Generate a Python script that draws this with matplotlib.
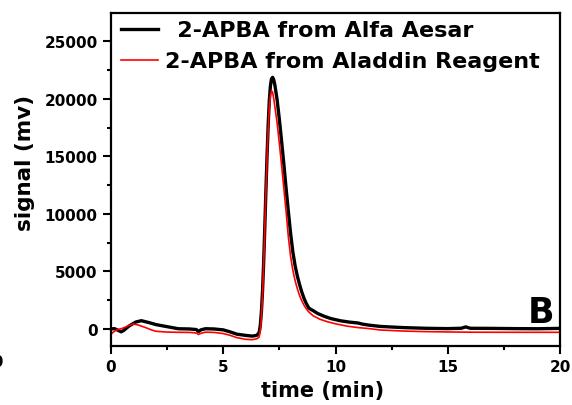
import matplotlib
matplotlib.use("Agg")
import matplotlib.pyplot as plt
from matplotlib.ticker import MultipleLocator

plt.rcParams['font.family'] = ['DejaVu Sans']
plt.rcParams['font.weight'] = 'bold'

# Alfa Aesar (black)
t_alfa = [0, 0.15, 0.3, 0.45, 0.55, 0.8, 1.1, 1.35, 1.7, 2.0, 2.5, 3.0, 3.5, 3.8, 3.9, 4.0,
          4.2, 4.6, 5.0, 5.3, 5.6, 6.0, 6.3, 6.5, 6.6, 6.65, 6.7, 6.75, 6.8, 6.85, 6.9, 6.95,
          7.0, 7.05, 7.1, 7.15, 7.2, 7.25, 7.3, 7.4, 7.5, 7.6, 7.7, 7.8, 7.9, 8.0,
          8.1, 8.2, 8.3, 8.4, 8.5, 8.6, 8.7, 8.8, 8.9, 9.0, 9.2, 9.5, 9.8, 10.2, 10.6, 11.0, 11.2, 11.5,
          12.0, 13.0, 14.0, 15.0, 15.6, 15.8, 16.0, 17.0, 18.0, 19.0, 20.0]
s_alfa = [0, 30, -100, -250, -150, 250, 600, 720, 550, 380, 200, 20, 0, -50, -220, -80,
          20, 0, -80, -250, -450, -560, -620, -550, -300, 300, 1500, 3300, 5800, 8800, 12000, 15000,
          17700, 19800, 21100, 21750, 21870, 21650, 21200, 19900, 18200, 16300, 14300, 12200, 10200, 8300,
          6700, 5500, 4600, 3850, 3200, 2650, 2200, 1850, 1700, 1600, 1350, 1100, 900, 720, 600, 520, 420, 330,
          220, 120, 60, 30, 60, 180, 60, 50, 30, 20, 50]

# Aladdin Reagent (red)
t_aladdin = [0, 0.15, 0.3, 0.5, 0.8, 1.0, 1.2, 1.5, 1.8, 2.0, 2.5, 3.0, 3.5, 3.8, 3.9, 4.0,
             4.2, 4.6, 5.0, 5.3, 5.6, 6.0, 6.3, 6.5, 6.6, 6.65, 6.7, 6.75, 6.8, 6.85, 6.9, 6.95,
             7.0, 7.05, 7.1, 7.15, 7.2, 7.25, 7.3, 7.4, 7.5, 7.6, 7.7, 7.8, 7.9, 8.0,
             8.1, 8.2, 8.3, 8.4, 8.5, 8.6, 8.7, 8.8, 9.0, 9.3, 9.6, 10.0, 10.5, 11.0,
             11.5, 12.0, 13.0, 14.0, 15.0, 16.0, 18.0, 20.0]
s_aladdin = [-450, -200, -50, 50, 300, 430, 350, 150, -80, -200, -270, -290, -300, -350, -480, -380,
             -280, -300, -400, -550, -750, -900, -930, -850, -700, -150, 1000, 3000, 5600, 8700, 11900, 14800,
             17300, 19200, 20300, 20700, 20550, 20000, 19300, 17900, 16100, 14200, 12200, 10200, 8000, 6300,
             5100, 4200, 3500, 2900, 2450, 2050, 1750, 1500, 1150, 850, 650, 450, 250, 120,
             30, -90, -180, -230, -260, -280, -290, -290]

labels = [" \u2009" + "2-APBA from Alfa Aesar", "2-APBA from Aladdin Reagent"]
x_ticks = [0, 5, 10, 15, 20]
y_ticks = [0, 5000, 10000, 15000, 20000, 25000]

fig = plt.figure(figsize=(5.72, 4.06), dpi=100)
ax = fig.add_axes([111/572, 1-347/406, (560-111)/572, (347-14)/406])

ax.plot(t_alfa, s_alfa, color='black', lw=2.4, label=labels[0], solid_joinstyle='round')
ax.plot(t_aladdin, s_aladdin, color='#ff0000', lw=1.2, label=labels[1], solid_joinstyle='round')

ax.set_xlim(0, 20)
ax.set_ylim(-1480, 27460)
ax.set_xticks(x_ticks)
ax.set_yticks(y_ticks)
ax.xaxis.set_minor_locator(MultipleLocator(2.5))
ax.yaxis.set_minor_locator(MultipleLocator(2500))
ax.tick_params(which='major', direction='out', length=5.5, width=1.5, labelsize=11)
ax.tick_params(which='minor', direction='out', length=3, width=1.5)
ax.tick_params(axis='x', which='major', pad=4)
ax.tick_params(axis='y', which='major', pad=4)
ax.tick_params(top=False, right=False)
for lab in ax.get_xticklabels() + ax.get_yticklabels():
    lab.set_fontweight('bold')
for sp in ax.spines.values():
    sp.set_linewidth(1.6)

fig.text(25/572, 1-163/406, "signal (mv)", rotation=90, ha='center', va='center',
         fontsize=15.5, fontweight='bold')
fig.text(323/572, 1-391/406, "time (min)", ha='center', va='center',
         fontsize=15, fontweight='bold')
fig.text(554/572, 1-323/406, "B", ha='right', va='baseline',
         fontsize=25, fontweight='bold')
fig.text(4.5/572, 1-363/406, "20", ha='right', va='center', fontsize=11, fontweight='bold')

leg = ax.legend(loc='upper left', bbox_to_anchor=(-0.008, 1.018), frameon=False,
                prop={'weight': 'bold', 'size': 16}, handlelength=1.68,
                handletextpad=0.33, labelspacing=0.5, borderaxespad=0.2)

fig.savefig("out.png", dpi=100)
